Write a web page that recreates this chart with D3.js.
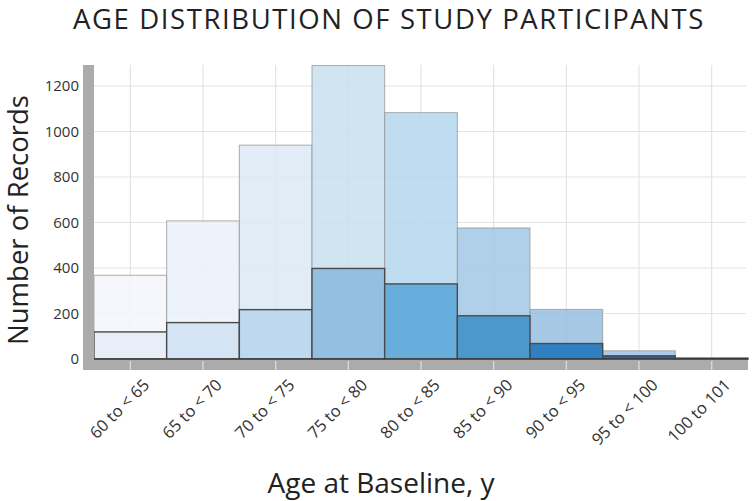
<!DOCTYPE html>
<html>
<head>
<meta charset="utf-8">
<script src="https://cdn.jsdelivr.net/npm/d3@7"></script>
<style>
  html, body { margin: 0; padding: 0; background: #fff; }
  svg { display: block; font-family: "Open Sans", "DejaVu Sans", sans-serif; }
</style>
</head>
<body>
<svg id="chart" width="755" height="501"></svg>
<script>
// ---- data ----
const categories = ["60 to < 65", "65 to < 70", "70 to < 75", "75 to < 80", "80 to < 85",
                    "85 to < 90", "90 to < 95", "95 to < 100", "100 to 101"];
const totalRecords    = [368, 607, 940, 1290, 1083, 576, 218, 36, 5];
const subgroupRecords = [119, 160, 217, 398, 330, 190, 68, 14, 3];
const yTicks = [0, 200, 400, 600, 800, 1000, 1200];
const totalColors    = ["#f3f6fb", "#eaf1f9", "#dde9f5", "#c9dff0", "#b4d7ee", "#a2c7e5", "#97bee1", "#9cc2e3", "#8fb8de"];
const subgroupColors = ["#e8eef8", "#d4e4f4", "#bed8ef", "#93bfe1", "#67aedc", "#4a98cc", "#2f7fc2", "#2265a8", "#2a4a70"];

const svg = d3.select("#chart");
const plotLeft = 94, plotRight = 748, plotTop = 65, plotBottom = 359;

const x = d3.scaleBand().domain(categories).range([plotLeft, plotRight]).padding(0);
const y = d3.scaleLinear().domain([0, 1200]).range([plotBottom, 86]);

// gridlines
const grid = svg.append("g");
grid.selectAll("line.h").data(yTicks).enter().append("line")
  .attr("x1", plotLeft).attr("x2", plotRight - 2)
  .attr("y1", d => y(d)).attr("y2", d => y(d))
  .attr("stroke", "#e4e4e4").attr("stroke-width", 1.2);
grid.selectAll("line.v").data(categories).enter().append("line")
  .attr("x1", d => x(d) + x.bandwidth() / 2).attr("x2", d => x(d) + x.bandwidth() / 2)
  .attr("y1", plotTop).attr("y2", plotBottom)
  .attr("stroke", "#e4e4e4").attr("stroke-width", 1.2);

// total (background) bars
svg.append("g").selectAll("rect").data(categories).enter().append("rect")
  .attr("x", d => x(d))
  .attr("width", x.bandwidth())
  .attr("y", (d, i) => y(totalRecords[i]))
  .attr("height", (d, i) => y(0) - y(totalRecords[i]))
  .attr("fill", (d, i) => totalColors[i])
  .attr("fill-opacity", 0.85)
  .attr("stroke", "#9a9a9a").attr("stroke-opacity", 0.8).attr("stroke-width", 1);

// subgroup (foreground) bars
svg.append("g").selectAll("rect").data(categories).enter().append("rect")
  .attr("x", d => x(d))
  .attr("width", x.bandwidth())
  .attr("y", (d, i) => y(subgroupRecords[i]))
  .attr("height", (d, i) => y(0) - y(subgroupRecords[i]))
  .attr("fill", (d, i) => subgroupColors[i])
  .attr("stroke", "#4a4a4a").attr("stroke-width", 1.4);

// gray axis bars
svg.append("rect").attr("x", 83).attr("y", plotTop).attr("width", 11).attr("height", 370 - plotTop)
  .attr("fill", "#ababab");
svg.append("rect").attr("x", 83).attr("y", plotBottom + 0.5).attr("width", plotRight - 83).attr("height", 10.5)
  .attr("fill", "#ababab");
// light tick marks in bottom bar
svg.append("g").selectAll("line").data(categories).enter().append("line")
  .attr("x1", d => x(d) + x.bandwidth() / 2).attr("x2", d => x(d) + x.bandwidth() / 2)
  .attr("y1", plotBottom + 2).attr("y2", 370)
  .attr("stroke", "#d6d6d6").attr("stroke-width", 1.5);
// baseline
svg.append("line").attr("x1", plotLeft).attr("x2", plotRight).attr("y1", plotBottom).attr("y2", plotBottom)
  .attr("stroke", "#3a3a3a").attr("stroke-width", 1.5);

// y axis labels
const yAxis = d3.axisLeft(y).tickValues(yTicks).tickFormat(d3.format("d")).tickSize(0).tickPadding(0);
const yg = svg.append("g").attr("transform", "translate(79,0)").call(yAxis);
yg.select(".domain").remove();
yg.selectAll("text").attr("font-size", 15).attr("fill", "#333")
  .attr("font-family", "'Open Sans', sans-serif");

// x axis labels
const xAxis = d3.axisBottom(x).tickSize(0).tickPadding(0);
const xg = svg.append("g").call(xAxis);
xg.select(".domain").remove();
xg.selectAll(".tick").attr("transform", d => `translate(${x(d) + x.bandwidth() / 2 + 20},386)`);
xg.selectAll("text")
  .attr("font-size", 16.5).attr("fill", "#333")
  .attr("font-family", "'Open Sans', sans-serif")
  .attr("text-anchor", "end").attr("dy", 0).attr("y", 0).attr("x", 0)
  .attr("transform", "rotate(-45)");

// titles
svg.append("text").attr("x", 389).attr("y", 29).attr("text-anchor", "middle")
  .attr("font-size", 27.5).attr("letter-spacing", 1.6).attr("fill", "#222")
  .text("AGE DISTRIBUTION OF STUDY PARTICIPANTS");
svg.append("text").attr("x", 381).attr("y", 493).attr("text-anchor", "middle")
  .attr("font-size", 28).attr("fill", "#222")
  .text("Age at Baseline, y");
svg.append("text").attr("transform", "translate(28,220) rotate(-90)").attr("text-anchor", "middle")
  .attr("font-size", 27.5).attr("fill", "#222")
  .text("Number of Records");
</script>
</body>
</html>
